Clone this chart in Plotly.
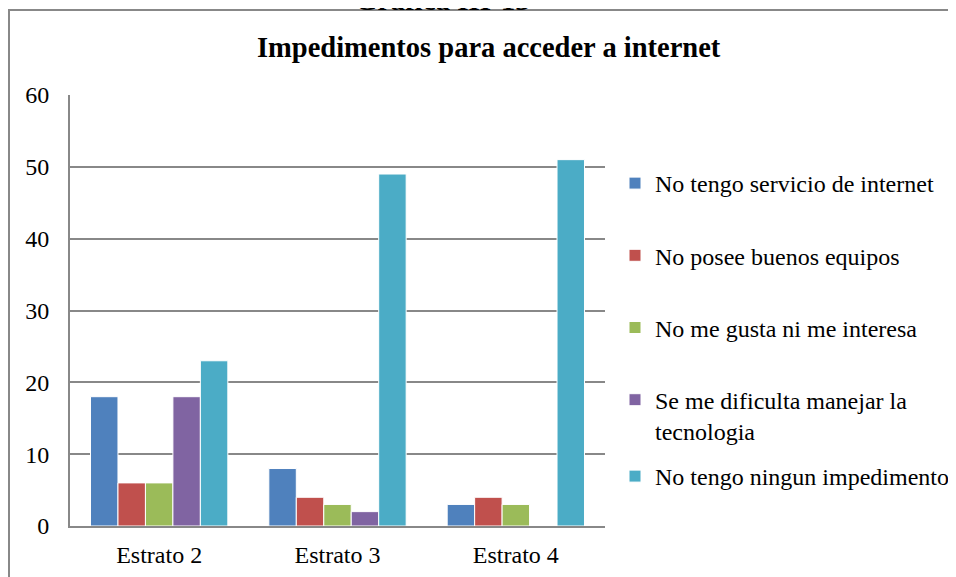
import plotly.graph_objects as go

categories = ["Estrato 2", "Estrato 3", "Estrato 4"]
series_names = [
    "No tengo servicio de internet",
    "No posee buenos equipos",
    "No me gusta ni me interesa",
    "Se me dificulta manejar la<br>tecnologia",
    "No tengo ningun impedimento",
]
no_servicio = [18, 8, 3]
no_equipos = [6, 4, 4]
no_interesa = [6, 3, 3]
dificulta = [18, 2, 0]
ningun = [23, 49, 51]
colors = ["#4F81BD", "#C0504D", "#9BBB59", "#8064A2", "#4BACC6"]
tick_vals = [0, 10, 20, 30, 40, 50, 60]

values = [no_servicio, no_equipos, no_interesa, dificulta, ningun]
FONT = "Liberation Serif"

# page body has an 8px margin; work in screen coordinates and shift
OFF = 8
W, H = 956 - OFF, 577 - OFF
L, R, T, B = 70 - OFF, 605 - OFF, 95 - OFF, 526 - OFF
pw, ph = R - L, B - T

def px(x):
    return (x - OFF - L) / pw

def py(y):
    return (B - (y - OFF)) / ph

fig = go.Figure()
for i, (name, vals, col) in enumerate(zip(series_names, values, colors)):
    fig.add_trace(go.Bar(
        x=categories, y=vals, name=name,
        marker=dict(color=col, line=dict(color="white", width=1)),
        legendgroup=str(i),
        legend="legend" if i < 4 else "legend2",
    ))

fig.update_layout(
    width=W, height=H,
    margin=dict(l=L, r=W - R, t=T, b=H - B, pad=0, autoexpand=False),
    paper_bgcolor="white", plot_bgcolor="white",
    font=dict(family=FONT, size=24, color="black"),
    barmode="group", bargap=0.23, bargroupgap=0,
    xaxis=dict(showline=True, linecolor="#888888", linewidth=2,
               ticks="", tickfont=dict(family=FONT, size=24, color="black"),
               ticklabelstandoff=6, showgrid=False, automargin=False),
    yaxis=dict(range=[0, 60], tickvals=tick_vals, showline=True,
               linecolor="#888888", linewidth=2, showgrid=True,
               gridcolor="#888888", gridwidth=1.5, ticks="",
               tickfont=dict(family=FONT, size=24, color="black"),
               ticklabelstandoff=14, zeroline=False, automargin=False),
    legend=dict(x=px(615), xanchor="left", y=py(161), yanchor="top",
                font=dict(family=FONT, size=24, color="black"),
                tracegroupgap=38, valign="top", bgcolor="rgba(0,0,0,0)"),
    legend2=dict(x=px(615), xanchor="left", y=py(454), yanchor="top",
                 font=dict(family=FONT, size=24, color="black"),
                 valign="top", bgcolor="rgba(0,0,0,0)"),
    showlegend=True,
)

fig.add_shape(type="rect", xref="paper", yref="paper",
              x0=px(9), x1=px(1000), y0=py(620), y1=py(10),
              line=dict(color="#888888", width=2), fillcolor="rgba(0,0,0,0)",
              layer="below")

fig.add_annotation(text="<b>Impedimentos para acceder a internet</b>",
                   xref="paper", yref="paper", x=px(489), xanchor="center",
                   y=py(48), yanchor="middle", showarrow=False,
                   font=dict(family=FONT, size=28.5, color="black"))

fig.add_annotation(text="<b>Gráfica III-13</b>", xref="paper", yref="paper",
                   x=px(442), xanchor="center", y=py(18), yanchor="bottom",
                   showarrow=False, font=dict(family=FONT, size=29, color="black"))

fig.write_html("out.html")
